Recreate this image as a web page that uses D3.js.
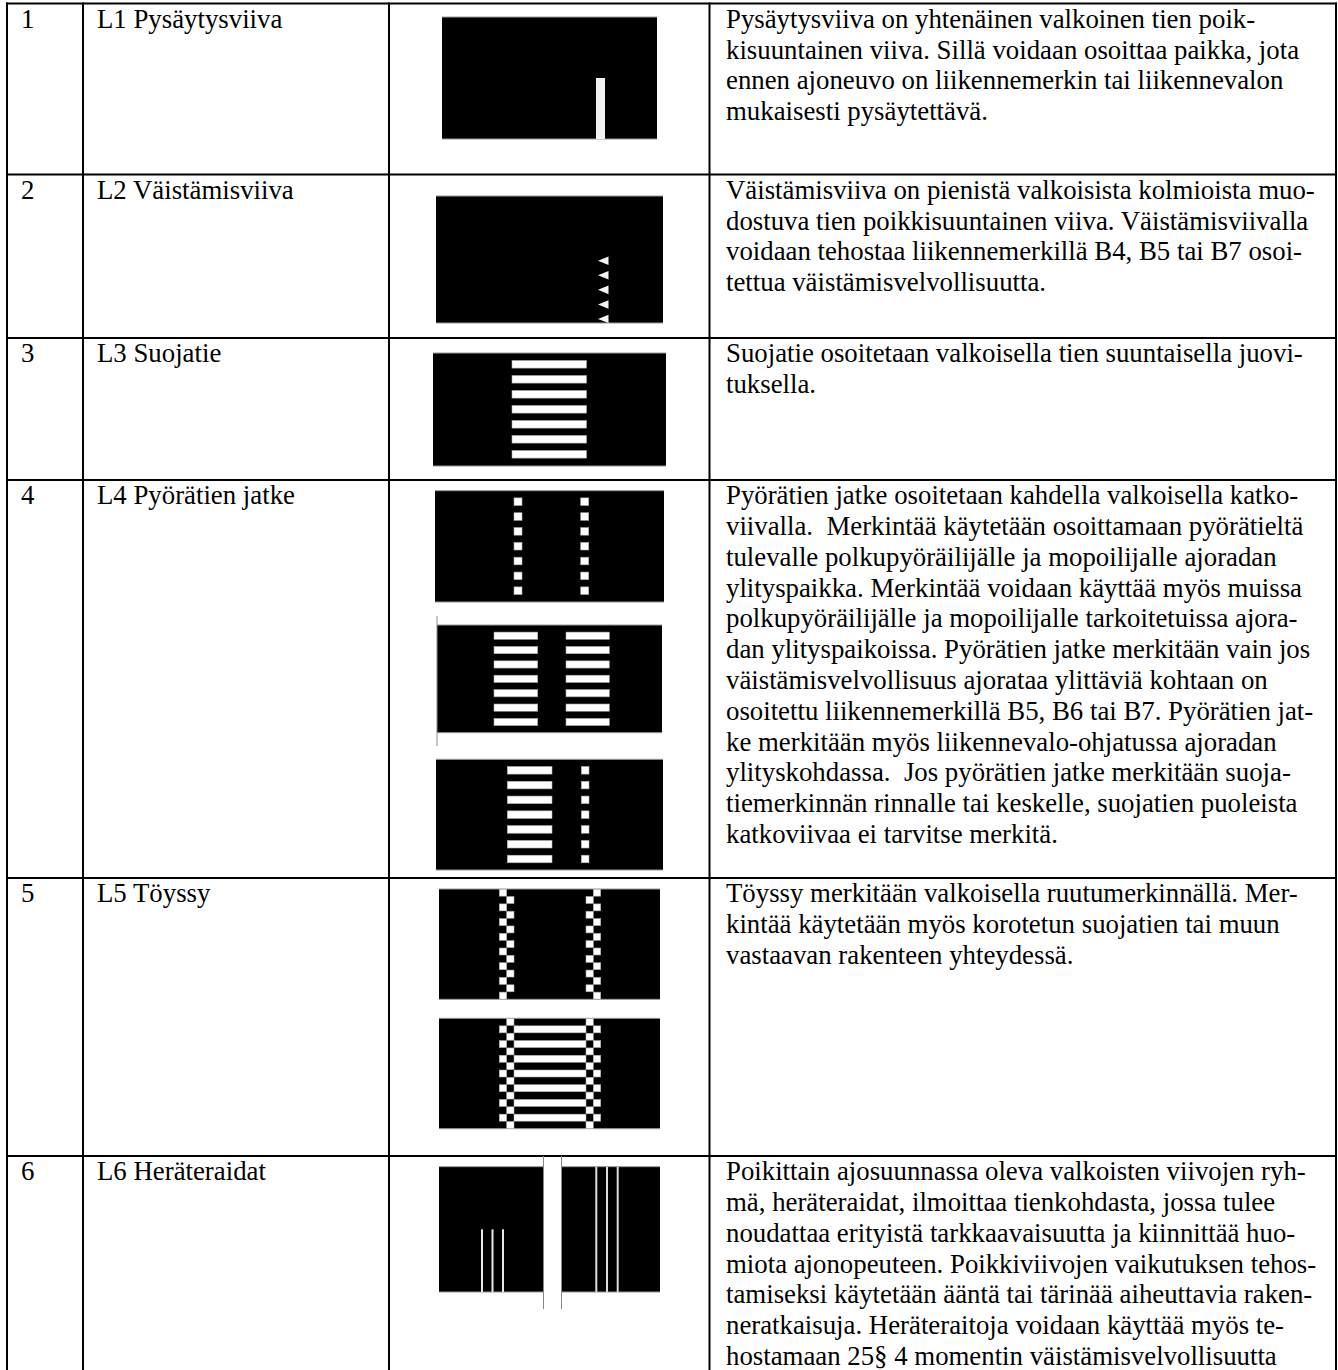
<!DOCTYPE html>
<html>
<head>
<meta charset="utf-8">
<script src="https://cdn.jsdelivr.net/npm/d3@7"></script>
<style>
  body { margin: 0; background: #fff; }
  text { font-family: "Liberation Serif", serif; font-size: 26.8px; fill: #000; white-space: pre; }
</style>
</head>
<body>
<svg id="chart" width="1338" height="1370"></svg>
<script>
const rowNumbers = ['1', '2', '3', '4', '5', '6'];
const rowNames = ['L1 Pysäytysviiva', 'L2 Väistämisviiva', 'L3 Suojatie', 'L4 Pyörätien jatke', 'L5 Töyssy', 'L6 Heräteraidat'];

const rowOneLines = [
  'Pysäytysviiva on yhtenäinen valkoinen tien poik-',
  'kisuuntainen viiva. Sillä voidaan osoittaa paikka, jota',
  'ennen ajoneuvo on liikennemerkin tai liikennevalon',
  'mukaisesti pysäytettävä.'
];
const rowTwoLines = [
  'Väistämisviiva on pienistä valkoisista kolmioista muo-',
  'dostuva tien poikkisuuntainen viiva. Väistämisviivalla',
  'voidaan tehostaa liikennemerkillä B4, B5 tai B7 osoi-',
  'tettua väistämisvelvollisuutta.'
];
const rowThreeLines = [
  'Suojatie osoitetaan valkoisella tien suuntaisella juovi-',
  'tuksella.'
];
const rowFourLines = [
  'Pyörätien jatke osoitetaan kahdella valkoisella katko-',
  'viivalla.  Merkintää käytetään osoittamaan pyörätieltä',
  'tulevalle polkupyöräilijälle ja mopoilijalle ajoradan',
  'ylityspaikka. Merkintää voidaan käyttää myös muissa',
  'polkupyöräilijälle ja mopoilijalle tarkoitetuissa ajora-',
  'dan ylityspaikoissa. Pyörätien jatke merkitään vain jos',
  'väistämisvelvollisuus ajorataa ylittäviä kohtaan on',
  'osoitettu liikennemerkillä B5, B6 tai B7. Pyörätien jat-',
  'ke merkitään myös liikennevalo-ohjatussa ajoradan',
  'ylityskohdassa.  Jos pyörätien jatke merkitään suoja-',
  'tiemerkinnän rinnalle tai keskelle, suojatien puoleista',
  'katkoviivaa ei tarvitse merkitä.'
];
const rowFiveLines = [
  'Töyssy merkitään valkoisella ruutumerkinnällä. Mer-',
  'kintää käytetään myös korotetun suojatien tai muun',
  'vastaavan rakenteen yhteydessä.'
];
const rowSixLines = [
  'Poikittain ajosuunnassa oleva valkoisten viivojen ryh-',
  'mä, heräteraidat, ilmoittaa tienkohdasta, jossa tulee',
  'noudattaa erityistä tarkkaavaisuutta ja kiinnittää huo-',
  'miota ajonopeuteen. Poikkiviivojen vaikutuksen tehos-',
  'tamiseksi käytetään ääntä tai tärinää aiheuttavia raken-',
  'neratkaisuja. Heräteraitoja voidaan käyttää myös te-',
  'hostamaan 25§ 4 momentin väistämisvelvollisuutta'
];
const descriptions = [rowOneLines, rowTwoLines, rowThreeLines, rowFourLines, rowFiveLines, rowSixLines];

// how many marks each figure repeats
const triangleCount = 5;
const stripeCount = 7;
const checkerCells = 15;
const rumbleCount = 3;

// table grid
const colEdges = [7, 83, 389, 709.5, 1336];
const rowEdges = [3.5, 174.5, 338, 480, 878, 1156, 1370];

const svg = d3.select('#chart');
// the figures in the source are soft scans
svg.append('defs').append('filter').attr('id', 'soft')
  .append('feGaussianBlur').attr('stdDeviation', 0.35);
const table = svg.append('g');
const figures = svg.append('g').attr('filter', 'url(#soft)');
const cells = svg.append('g');

// one black road panel with its grey top and bottom edge
function panel(x0, x1, y0, y1) {
  const g = figures.append('g');
  g.append('rect').attr('x', x0).attr('y', y0).attr('width', x1 - x0).attr('height', y1 - y0).attr('fill', '#000');
  g.selectAll('line').data([y0, y1]).enter().append('line')
    .attr('x1', x0).attr('x2', x1).attr('y1', d => d).attr('y2', d => d)
    .attr('stroke', '#999').attr('stroke-width', 1);
  return g;
}

function mark(g, x0, x1, yc, h) {
  g.append('rect')
    .attr('x', x0).attr('y', yc - h / 2).attr('width', x1 - x0).attr('height', h)
    .attr('fill', '#fff').attr('stroke', '#aaa').attr('stroke-width', 0.6);
}

// stripes spaced evenly between first and last centre
function stripes(g, count, first, last, x0, x1, h) {
  const y = d3.scaleLinear().domain([0, count - 1]).range([first, last]);
  d3.range(count).forEach(i => mark(g, x0, x1, y(i), h));
}

// L1
const f1 = panel(442, 657, 17, 139);
f1.append('rect').attr('x', 596).attr('y', 78).attr('width', 9).attr('height', 61).attr('fill', '#f2f2f2');

// L2
const f2 = panel(436, 663, 196, 323);
const triY = d3.scaleLinear().domain([0, triangleCount - 1]).range([260.7, 319]);
f2.selectAll('path.tri').data(d3.range(triangleCount)).enter().append('path')
  .attr('class', 'tri').attr('fill', '#f4f4f4')
  .attr('d', d => d3.line()([[598, triY(d)], [608.5, triY(d) - 4.3], [608.5, Math.min(323, triY(d) + 4.3)]]) + 'Z');

// L3
const f3 = panel(433, 666, 353, 466);
stripes(f3, stripeCount, 364.3, 454.3, 512, 586.5, 7.6);

// L4
const f4a = panel(435, 664, 490.7, 602);
stripes(f4a, stripeCount, 501.7, 590.7, 514, 522, 7.6);
stripes(f4a, stripeCount, 501.7, 590.7, 580.7, 588.7, 7.6);

const f4b = panel(437, 662, 625, 732.7);
stripes(f4b, stripeCount, 635.7, 722, 494, 537.7, 7.2);
stripes(f4b, stripeCount, 635.7, 722, 566, 609.3, 7.2);
figures.append('line').attr('x1', 437).attr('x2', 437).attr('y1', 616).attr('y2', 746)
  .attr('stroke', '#888').attr('stroke-width', 1);

const f4c = panel(436, 663, 759.3, 870);
stripes(f4c, stripeCount, 770.3, 859, 507.3, 552, 7.6);
stripes(f4c, stripeCount, 770.3, 859, 581.3, 589, 7.6);

// L5
function checker(g, top, bottom, cols, startOuter) {
  const y = d3.scaleBand().domain(d3.range(checkerCells)).range([top, bottom]);
  d3.range(checkerCells).forEach(i => {
    const c = cols[(i + startOuter) % 2];
    mark(g, c[0], c[1], y(i) + y.bandwidth() / 2, y.bandwidth() - 0.4);
  });
}
const leftCols = [[499.3, 506.7], [506.7, 514]];
const rightCols = [[593.3, 600.7], [586, 593.3]];

const f5a = panel(439, 660, 889, 999.3);
checker(f5a, 889, 999.3, leftCols, 0);
checker(f5a, 889, 999.3, rightCols, 0);

const f5b = panel(439, 660, 1018.3, 1128.7);
checker(f5b, 1018.3, 1128.7, leftCols, 1);
checker(f5b, 1018.3, 1128.7, rightCols, 1);
const cellY = d3.scaleBand().domain(d3.range(checkerCells)).range([1018.3, 1128.7]);
d3.range(stripeCount).forEach(i => mark(f5b, 514, 586, cellY(2 * i + 1) + cellY.bandwidth() / 2, 7));

// L6, road split by the refuge in the middle
const f6 = panel(439, 543.5, 1166.7, 1292);
const f6b = panel(561.5, 660, 1166.7, 1292);
figures.selectAll('line.edge').data([543.5, 561.5]).enter().append('line')
  .attr('class', 'edge').attr('x1', d => d).attr('x2', d => d).attr('y1', 1156).attr('y2', 1309)
  .attr('stroke', '#888').attr('stroke-width', 1);
const shortX = d3.scaleLinear().domain([0, rumbleCount - 1]).range([482, 503]);
const longX = d3.scaleLinear().domain([0, rumbleCount - 1]).range([596.3, 617.7]);
d3.range(rumbleCount).forEach(i => {
  f6.append('rect').attr('x', shortX(i) - 1).attr('y', 1229.3).attr('width', 2).attr('height', 62.7).attr('fill', '#e8e8e8');
  f6b.append('rect').attr('x', longX(i) - 1).attr('y', 1166.7).attr('width', 2).attr('height', 125.3).attr('fill', '#ddd');
});

// grid
table.selectAll('line.row').data(rowEdges.slice(0, -1)).enter().append('line')
  .attr('class', 'row').attr('x1', colEdges[0] - 1).attr('x2', colEdges[4] + 1)
  .attr('y1', d => d).attr('y2', d => d).attr('stroke', '#000').attr('stroke-width', 2);
table.selectAll('line.col').data(colEdges).enter().append('line')
  .attr('class', 'col').attr('x1', d => d).attr('x2', d => d)
  .attr('y1', rowEdges[0] - 1).attr('y2', rowEdges[6])
  .attr('stroke', '#000').attr('stroke-width', 2);

// text
const lineStep = 30.8;
rowNumbers.forEach((n, i) => {
  const base = rowEdges[i] + 24.2;
  cells.append('text').attr('x', 21).attr('y', base).text(n);
  cells.append('text').attr('x', 97).attr('y', base).text(rowNames[i]);
  cells.selectAll('text.d' + i).data(descriptions[i]).enter().append('text')
    .attr('class', 'd' + i).attr('x', 726).attr('y', (d, j) => base + j * lineStep).text(d => d);
});
</script>
</body>
</html>
